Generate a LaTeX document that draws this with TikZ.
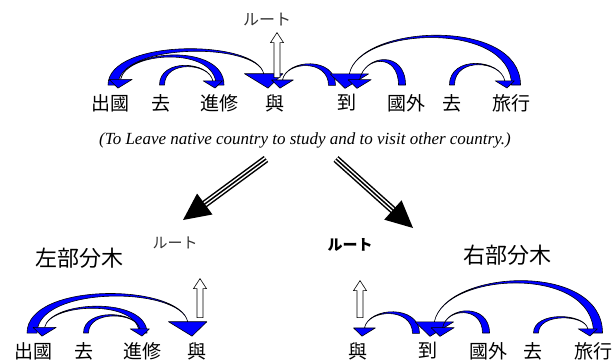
\documentclass[tikz,border=0pt]{standalone}
\usepackage{fontspec}
\setmainfont{Liberation Serif}
\newfontfamily\cjk{Noto Sans CJK JP}
\usetikzlibrary{calc}

\tikzset{
  word/.style={font=\cjk\fontsize{19}{19}\selectfont, inner sep=0pt},
  subtree/.style={font=\cjk\fontsize{22}{22}\selectfont, inner sep=0pt},
  rootlbl/.style={font=\cjk\fontsize{15}{15}\selectfont, inner sep=0pt, text=black!80},
  deparc/.style={fill=blue, draw=black, line width=0.6pt, line join=round},
  hollow/.style={draw=black, fill=white, line width=0.6pt},
}

% tapered dependency arc: tail node, head node, tail dx, tip dx, height, tail width, head size
\newcommand{\dep}[7]{%
  \path[deparc] let \p1=($(#1.north)+(#3,-9)$), \p2=($(#2.north)+(#4,-6)$),
    \n1={sign(\x2-\x1)}, \n2={0.48*#7},
    \p3=({\x2-(\n1)*0.3*\n2*1pt},{\y2+\n2*1pt}),
    \p4=({\x3-(\n1)*0.2*0.75*#5pt},{\y3+0.98*0.75*#5pt}),
    \p5=({\x3-(\n1)*0.2*0.75*(#5-0.4*#6)*1pt},{\y3+0.98*0.75*(#5-0.4*#6)*1pt})
  in ({\x1-(\n1)*#6pt/2},\y1) .. controls ({\x1-(\n1)*#6pt/2},{\y1+#5pt}) and (\p4) .. (\p3)
     .. controls (\p5) and ({\x1+(\n1)*#6pt/2},{\y1+#5pt-0.4*#6pt}) .. ({\x1+(\n1)*#6pt/2},\y1) -- cycle
     ({\x3+0.64*#7pt},\y3) -- (\p2) -- ({\x3-0.64*#7pt},\y3) -- cycle;
}
% hollow arrow up to the root: node, base shift, length
\newcommand{\rootarrow}[3]{%
  \draw[hollow] ($(#1.north)+(#2)$) ++(-3,0) -- ++(0,-#3+10) -- ++(-3.5,0) -- ++(6.5,-10)
    -- ++(6.5,10) -- ++(-3.5,0) -- ++(0,#3-10) -- cycle;
}
% triple-line split arrow
\newcommand{\splitarrow}[2]{%
  \coordinate (hb) at ($(#2)!27pt!(#1)$);
  \draw[line width=7.5pt] (#1) -- ($(#2)!20pt!(#1)$);
  \draw[line width=4.5pt, white] (#1) -- ($(#2)!20pt!(#1)$);
  \draw[line width=1.5pt] (#1) -- ($(#2)!20pt!(#1)$);
  \fill ($(hb)!13pt!90:(#2)$) -- (#2) -- ($(hb)!13pt!-90:(#2)$) -- cycle;
}

\begin{document}
\begin{tikzpicture}[x=1pt, y=-1pt]
  \useasboundingbox (0,0) rectangle (615,361);
  % whole sentence
  \foreach \n/\x/\t in {w1/110/出國, w2/161/去, w3/219/進修, w4/275/與, w5/347/到, w6/406/國外, w7/452/去, w8/511/旅行}
    \node[word] (\n) at (\x,103) {\t};
  \node[rootlbl, font=\cjk\fontsize{16}{16}\selectfont] (root) at (267,20) {ルート};
  \dep{w1}{w4}{3}{-7}{47}{10}{30}
  \dep{w3}{w1}{1}{8}{42}{8}{18}
  \dep{w2}{w3}{1}{-4}{27}{5}{15}
  \dep{w5}{w4}{-15}{5}{29}{7}{17}
  \dep{w8}{w5}{5}{-2}{68}{9}{30}
  \dep{w6}{w5}{-4}{10}{35}{7}{18}
  \dep{w7}{w8}{0}{-4}{30}{5}{15}
  \rootarrow{w4}{2,-16.5}{45}
  \node[font=\itshape\fontsize{17}{17}\selectfont, inner sep=0pt] (gloss) at (305,140)
    {(To Leave native country to study and to visit other country.)};
  % split
  \coordinate (la1) at (266,159);
  \coordinate (la2) at (183,220);
  \coordinate (ra1) at (336,159);
  \coordinate (ra2) at (413,228);
  \splitarrow{la1}{la2}
  \splitarrow{ra1}{ra2}
  % left subtree
  \node[subtree] (ltree) at (79,258) {左部分木};
  \node[rootlbl] (lroot) at (175,243) {ルート};
  \foreach \n/\x/\t in {l1/33/出國, l2/84/去, l3/142/進修, l4/197/與}
    \node[word] (\n) at (\x,351) {\t};
  \dep{l1}{l4}{-1}{-5}{52}{10}{30}
  \dep{l3}{l1}{1}{9}{37}{8}{18}
  \dep{l2}{l3}{2}{0}{25}{5}{15}
  \rootarrow{l4}{3,-24.5}{39}
  % right subtree
  \node[subtree] (rtree) at (507,255) {右部分木};
  \node[rootlbl, text=black, font=\cjk\bfseries\fontsize{15}{15}\selectfont] (rroot) at (350,245) {ルート};
  \foreach \n/\x/\t in {r1/358/與, r2/428/到, r3/488/國外, r4/533/去, r5/593/旅行}
    \node[word] (\n) at (\x,351) {\t};
  \dep{r2}{r1}{-12}{4}{29}{7}{17}
  \dep{r5}{r2}{5}{2}{72}{9}{30}
  \dep{r3}{r2}{-2}{12}{30}{7}{18}
  \dep{r4}{r5}{3}{-3}{22}{5}{15}
  \rootarrow{r1}{2,-24.5}{37}
\end{tikzpicture}
\end{document}
